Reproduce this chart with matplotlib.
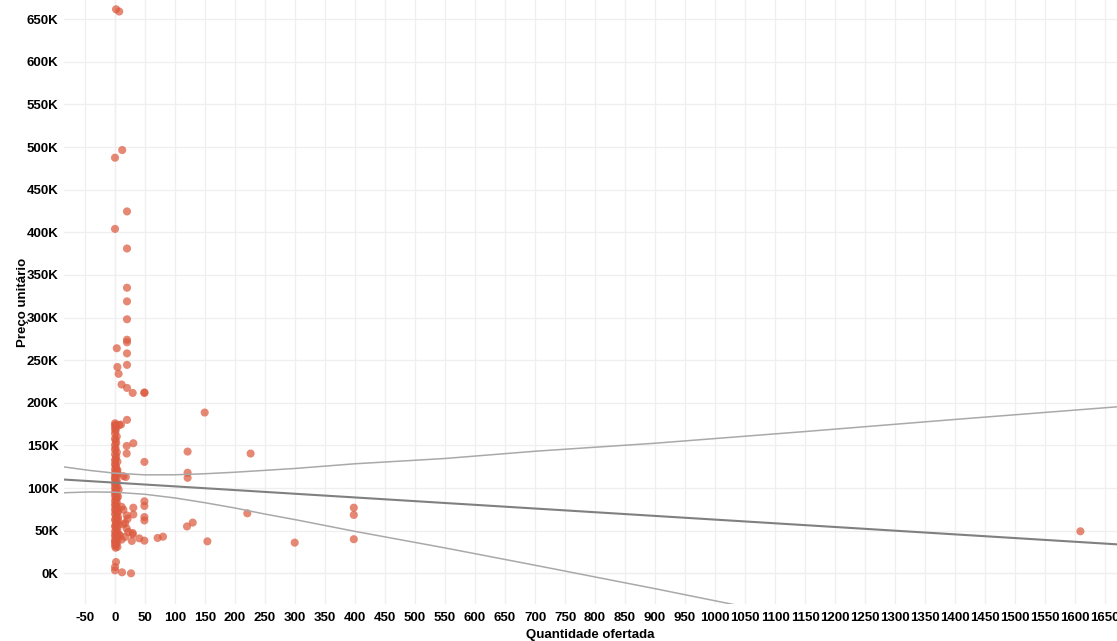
import numpy as np
import matplotlib
matplotlib.use('Agg')
import matplotlib.pyplot as plt
from matplotlib.ticker import FuncFormatter, MultipleLocator

# pontos espalhados (quantidade, preco em milhares)
qtd_out = [1.7, 7, 12, 0, 20, 0, 20, 20, 20, 20, 20, 20, 3, 20, 20, 4, 6,
           11, 20, 29.5, 49, 49, 20, 149.5, 10, 7, 30.5, 19.5, 121, 226, 19.5,
           49, 121, 121, 18, 14, 49, 49, 30.5, 14, 11, 30.5, 21, 49, 49, 220.5,
           129.5, 120, 14, 17, 19.5, 19.5, 29.5, 29.5, 22, 40.5, 28, 49, 71, 80,
           154, 299.5, 16.7, 8, 11, 398, 398, 398, 1609, 1.7, 0, 0, 11.7, 26.7]
preco_out = [661.6, 659, 496.5, 487.5, 424.5, 404, 381, 335, 319, 298, 274, 271,
             264, 258, 244.5, 242, 234, 221.5, 217.5, 211.6, 211.6, 212.2, 180,
             188.6, 174.5, 174, 152.6, 149.4, 142.8, 140.5, 140.5, 130.7, 118, 112,
             113, 114, 84.5, 79, 77, 74.7, 78, 69, 64, 66, 62, 70.4, 59.5, 55, 57.5,
             59, 52.5, 68, 47.3, 45.6, 48.5, 41, 38, 38.3, 41.5, 43, 37.5, 36, 42.6,
             44.6, 39.5, 77, 68.5, 40, 49.3, 13.3, 7.4, 3.5, 1.2, 0]

# coluna densa perto de zero
qtd_col = [0, 1, 0, 2, 0, 1, 0, 3, 0, 1, 2, 0, 1, 0, 3, 0, 2, 1, 0, 4, 0, 1, 2,
           0, 3, 1, 0, 2, 5, 0, 1, 0, 3, 2, 0, 1, 4, 0, 2, 1, 0, 3, 0, 5, 1, 2, 0,
           3, 1, 0, 2, 4, 0, 1, 3, 0, 2, 5, 1, 0, 3, 2, 6, 0, 1, 4, 2, 0, 3, 1, 0,
           2, 5, 0, 1, 3, 2, 0, 4, 1, 0, 2, 6, 4, 5, 6, 3, 5]
preco_col = [176, 174.5, 173, 171, 169.5, 167, 164, 160.5, 158, 156, 153, 150.5,
             147, 145, 142, 139.5, 137, 134, 132.5, 131, 128, 126.5, 124, 122,
             120.5, 119, 117, 115.5, 116, 113, 111.5, 110, 108, 106.5, 105, 103,
             101.5, 100, 98, 96.5, 95, 93, 91.5, 90, 88.5, 87, 85, 83, 81.5, 80,
             78, 76.5, 75, 73, 71, 69.5, 67.5, 66, 64, 62.5, 61, 59, 57, 55.5,
             54, 52, 50.5, 49, 47, 45.5, 44, 42, 40.5, 39, 37, 35.5, 34, 32.5,
             31, 30, 36, 58, 98, 121, 72, 46, 88, 63]

# linha de tendencia e faixas de confianca
trend_x = [-85, 1670]
trend_y = [110.0, 34.0]
band_x = [-85, -40, 0, 50, 100, 150, 200, 250, 300, 400, 550, 700, 900, 1150,
          1400, 1670]
band_upper = [124.8, 120.5, 117.5, 115.5, 115.6, 116.8, 118.6, 120.8, 123.0,
              128.5, 134.7, 143.2, 152.6, 166.3, 180.5, 195.3]
band_lower = [94.5, 95.5, 95.1, 92.7, 88.4, 82.8, 76.6, 69.5, 63.0, 49.2, 29.8,
              9.5, -18.0, -53.5, -89.0, -127.0]

x = np.array(qtd_col + qtd_out)
y = np.array(preco_col + preco_out) * 1000

plt.rcParams['font.family'] = ['Liberation Sans', 'DejaVu Sans']
plt.rcParams['axes.unicode_minus'] = False

fig = plt.figure(figsize=(11.17, 6.41), dpi=100)
ax = fig.add_axes([0.0573, 0.0577, 0.9427, 0.9423])

ax.set_xlim(-85, 1670)
ax.set_ylim(-36000, 672500)

ax.xaxis.set_major_locator(MultipleLocator(50))
ax.yaxis.set_major_locator(MultipleLocator(50000))
ax.yaxis.set_major_formatter(FuncFormatter(lambda v, p: f"{v/1000:.0f}K"))
ax.grid(True, color='#efefef', linewidth=0.9)
ax.set_axisbelow(True)
ax.axhline(0, color='#d8d8d8', linewidth=0.9, linestyle=(0, (1, 1)), zorder=0.5)
ax.axvline(0, color='#d8d8d8', linewidth=0.9, linestyle=(0, (1, 1)), zorder=0.5)
for s in ax.spines.values():
    s.set_visible(False)
ax.tick_params(length=0, labelsize=9.5, pad=6)
for lbl in ax.get_xticklabels() + ax.get_yticklabels():
    lbl.set_fontweight('bold')
ax.tick_params(axis='y', pad=4)

ax.scatter(x, y, s=34, color='#dc5a3f', alpha=0.72, edgecolors='none', zorder=2)

ax.plot(band_x, np.array(band_upper) * 1000, color='#a9a9a9', linewidth=1.1, zorder=3)
ax.plot(band_x, np.array(band_lower) * 1000, color='#a9a9a9', linewidth=1.1, zorder=3)
ax.plot(trend_x, np.array(trend_y) * 1000, color='#808080', linewidth=1.5, zorder=3)

ax.set_xlabel('Quantidade ofertada', fontsize=9.5, fontweight='bold', labelpad=3)
ax.set_ylabel('Preço unitário', fontsize=9.5, fontweight='bold', labelpad=-2)

plt.savefig('out.png', dpi=100)
